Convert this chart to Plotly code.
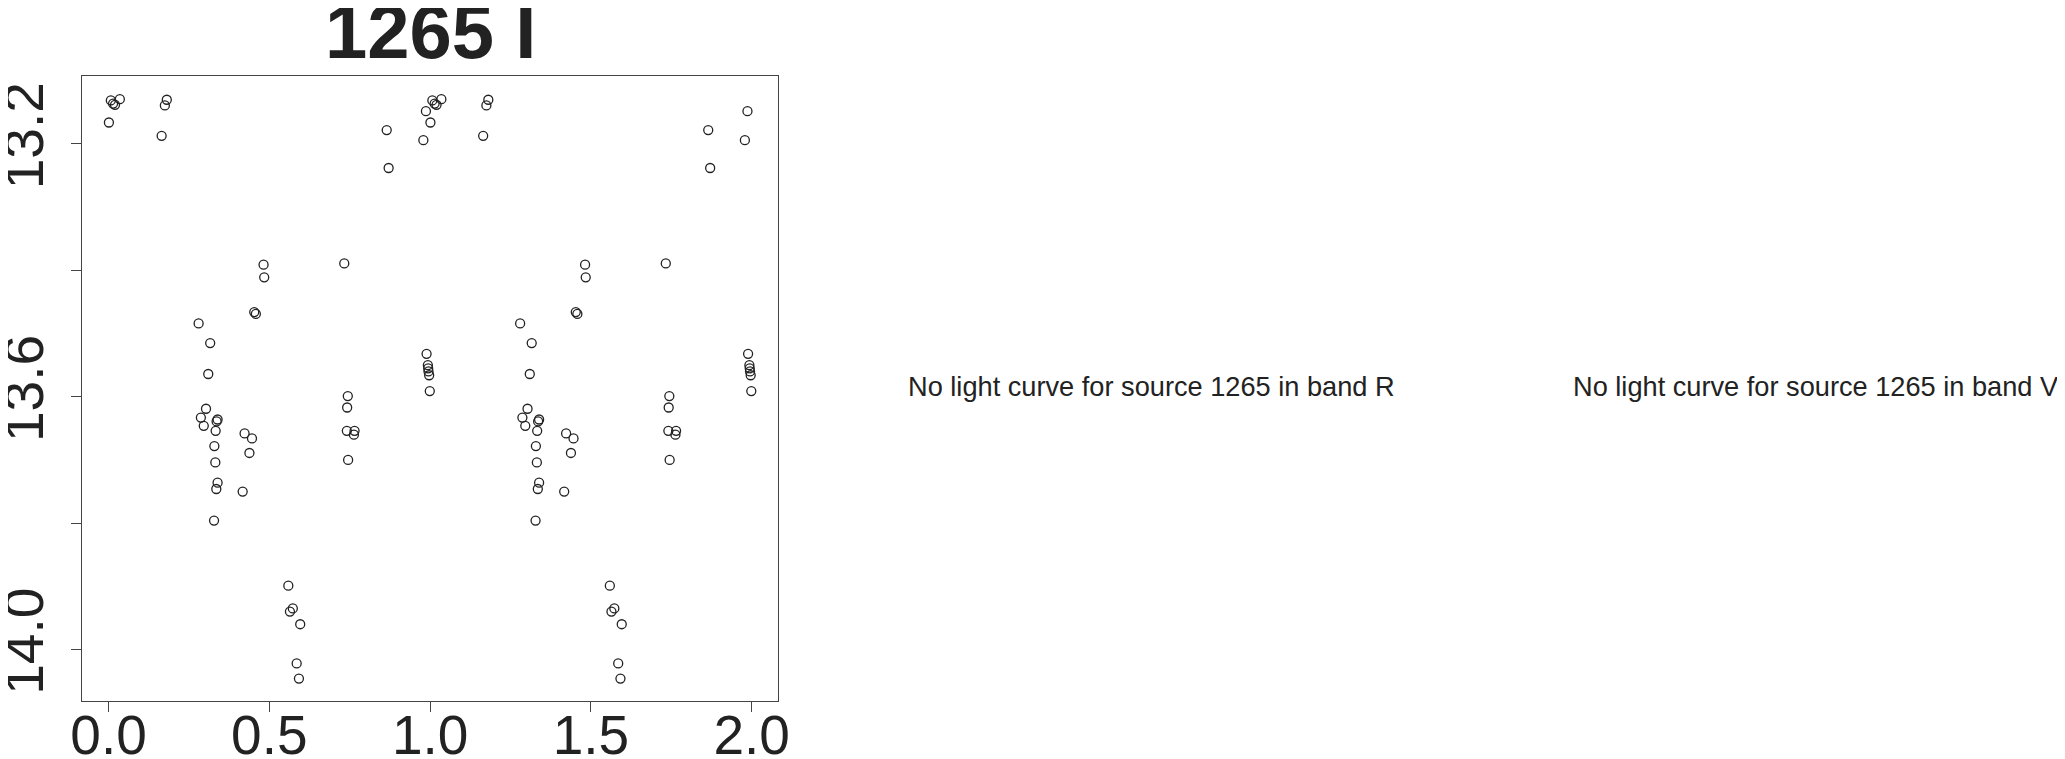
import plotly.graph_objects as go

# Folded light curve of source 1265, band I (phase in [0,1), plotted twice)
phase = [0.001, 0.007, 0.014, 0.020, 0.035, 0.165, 0.175, 0.181,
         0.280, 0.316, 0.310, 0.303, 0.287, 0.296, 0.339, 0.336, 0.333,
         0.329, 0.332, 0.339, 0.335, 0.328,
         0.417, 0.423, 0.446, 0.438, 0.453, 0.458, 0.482, 0.484,
         0.559, 0.573, 0.564, 0.596, 0.585, 0.592,
         0.733, 0.744, 0.742, 0.741, 0.765, 0.763, 0.745,
         0.865, 0.871, 0.979, 0.987,
         0.989, 0.993, 0.994, 0.995, 0.997, 0.999]
mag = [13.166, 13.131, 13.136, 13.138, 13.129, 13.187, 13.139, 13.130,
       13.484, 13.515, 13.564, 13.619, 13.633, 13.646, 13.636, 13.639, 13.654,
       13.678, 13.704, 13.736, 13.746, 13.796,
       13.750, 13.658, 13.666, 13.689, 13.466, 13.469, 13.391, 13.411,
       13.899, 13.935, 13.940, 13.960, 14.022, 14.046,
       13.389, 13.599, 13.617, 13.654, 13.654, 13.660, 13.700,
       13.178, 13.238, 13.194, 13.148,
       13.532, 13.550, 13.555, 13.560, 13.566, 13.591]

title_text = "1265 I"
x_ticks = [0.0, 0.5, 1.0, 1.5, 2.0]
x_ticklabels = ["0.0", "0.5", "1.0", "1.5", "2.0"]
y_ticks = [13.2, 13.4, 13.6, 13.8, 14.0]
y_ticklabels = ["13.2", "", "13.6", "", "14.0"]
missing_msgs = ["No light curve for source 1265 in band R",
                "No light curve for source 1265 in band V"]

# the page body has an 8px margin, so lay out in page pixels minus 8
OFF = 8
W, H = 2065 - OFF, 759 - OFF
L, R, T, B = 82 - OFF, 778 - OFF, 76 - OFF, 701 - OFF
FONT = "Liberation Sans, Arial, Helvetica, sans-serif"
INK = "#222222"

xs = phase + [p + 1 for p in phase]
ys = mag + mag

fig = go.Figure()
fig.add_trace(go.Scatter(
    x=xs, y=ys, mode="markers",
    marker=dict(symbol="circle-open", size=9, color=INK,
                line=dict(width=1.3, color=INK)),
    showlegend=False, hoverinfo="skip", cliponaxis=False))

fig.update_layout(
    width=W, height=H,
    margin=dict(l=L, r=W - R, t=T, b=H - B, pad=0, autoexpand=False),
    paper_bgcolor="white", plot_bgcolor="white",
    font=dict(family=FONT, color=INK),
    showlegend=False,
)

fig.update_xaxes(
    range=[-0.0827, 2.082], tickvals=x_ticks, ticktext=x_ticklabels,
    ticks="outside", ticklen=10, tickwidth=1.3, tickcolor="#444",
    ticklabelstandoff=-24,
    tickfont=dict(size=55, family=FONT, color=INK),
    showgrid=False, zeroline=False, automargin=False,
    showline=True, linecolor="#444", linewidth=1.3, mirror=True,
)
fig.update_yaxes(
    range=[14.0815, 13.0924], tickvals=y_ticks, ticktext=y_ticklabels,
    ticks="outside", ticklen=10, tickwidth=1.3, tickcolor="#444",
    tickangle=-90, ticklabelstandoff=6,
    tickfont=dict(size=55, family=FONT, color=INK),
    showgrid=False, zeroline=False, automargin=False,
    showline=True, linecolor="#444", linewidth=1.3, mirror=True,
)

# Title
fig.add_annotation(
    text="<b>%s</b>" % title_text, xref="paper", yref="paper",
    x=0.5, y=1.0, xanchor="center", yanchor="bottom", showarrow=False,
    font=dict(size=76, family=FONT, color=INK))

# Messages for missing bands (positioned in pixel terms converted to paper)
pw, ph = R - L, B - T
msg_centers = [1151 - OFF, 1816 - OFF]
for msg, cx in zip(missing_msgs, msg_centers):
    fig.add_annotation(
        text=msg, xref="paper", yref="paper",
        x=(cx - L) / pw, y=(B - (386 - OFF)) / ph,
        xanchor="center", yanchor="middle", showarrow=False,
        font=dict(size=27.2, family=FONT, color=INK))

fig.write_html("out.html")
